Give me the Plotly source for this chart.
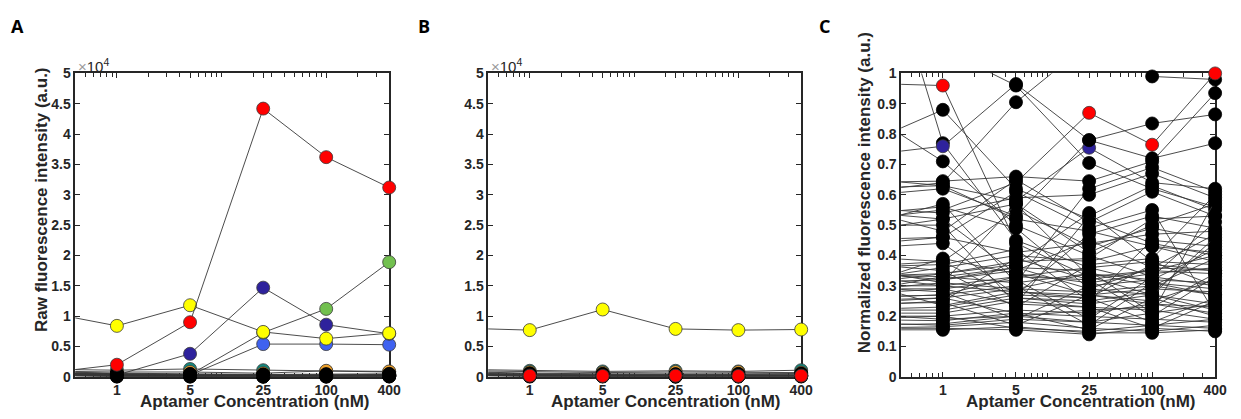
import math
import plotly.graph_objects as go

# ---------------- data ----------------
# concentrations (nM); the first point (0.1 nM) lies left of the visible axis range
CONC = [0.1, 1, 5, 25, 100, 400]
TICK_CONC = [1, 5, 25, 100, 400]
TICK_TEXT = ["1", "5", "25", "100", "400"]

# Panel A: raw fluorescence intensity (a.u.)
A_black = [
    [600, 300, 200, 100, 150, 200],
    [500, 200, 150, 120, 100, 150],
    [800, 400, 300, 250, 200, 300],
    [400, 100, 100, 50, 80, 100],
    [700, 300, 250, 200, 250, 250],
    [300, 50, 50, 30, 40, 60],
    [900, 500, 400, 350, 300, 400],
    [1000, 600, 500, 400, 450, 500],
    [650, 250, 200, 180, 160, 200],
    [450, 150, 120, 100, 110, 120],
    [550, 350, 300, 280, 260, 300],
    [750, 450, 350, 300, 350, 350],
    [350, 80, 60, 50, 60, 80],
]
A_orange = [1000, 800, 800, 600, 1000, 900]
A_teal = [1300, 1100, 1300, 1100, 900, 800]
A_blue = [800, 250, 300, 5400, 5400, 5300]
A_green = [900, 200, 350, 7300, 11200, 18900]
A_navy = [900, 300, 3800, 14700, 8600, 7100]
A_yellow = [11700, 8400, 11800, 7400, 6300, 7200]
A_red = [0, 2000, 9000, 44200, 36200, 31200]

# Panel B: raw fluorescence intensity (a.u.)
B_black = [
    [700, 300, 250, 200, 250, 250],
    [500, 200, 150, 120, 100, 150],
    [900, 500, 400, 350, 400, 450],
    [400, 100, 100, 50, 80, 100],
    [800, 400, 300, 300, 250, 300],
    [300, 50, 50, 30, 40, 60],
    [1000, 600, 500, 450, 500, 550],
    [600, 250, 200, 180, 160, 200],
    [450, 150, 120, 100, 110, 120],
    [550, 350, 300, 280, 260, 300],
]
B_orange = [1100, 800, 700, 800, 800, 700]
B_teal = [1300, 1000, 900, 1000, 900, 1100]
B_yellow = [8200, 7700, 11100, 7900, 7700, 7800]
B_red = [500, 200, 150, 200, 150, 200]

# Panel C: normalized fluorescence intensity (a.u.)
C_series = [
    [0.97, 0.96, 0.44, 0.33, 0.27, 0.24],
    [0.73, 0.88, 0.62, 0.52, 0.44, 0.40],
    [1.90, 0.77, 0.45, 0.36, 0.31, 0.27],
    [0.72, 0.76, 0.965, 0.78, 0.835, 0.865],
    [0.93, 0.71, 0.50, 0.40, 0.33, 0.30],
    [1.20, 1.08, 0.96, 0.705, 0.62, 0.56],
    [0.60, 0.64, 0.905, 1.10, 0.99, 0.98],
    [0.51, 0.55, 0.64, 0.87, 0.765, 1.00],
    [0.66, 0.63, 0.58, 0.755, 0.64, 0.62],
    [0.59, 0.62, 0.53, 0.78, 0.72, 0.77],
    [0.64, 0.645, 0.66, 0.645, 0.71, 0.935],
    [0.48, 0.57, 0.31, 0.62, 0.69, 0.61],
    [0.56, 0.54, 0.59, 0.60, 0.67, 0.59],
    [0.55, 0.52, 0.57, 0.41, 0.50, 0.57],
    [0.50, 0.50, 0.24, 0.53, 0.63, 0.55],
    [0.57, 0.48, 0.65, 0.51, 0.61, 0.53],
    [0.45, 0.46, 0.61, 0.49, 0.55, 0.21],
    [0.42, 0.44, 0.27, 0.47, 0.53, 0.49],
    [0.53, 0.56, 0.49, 0.29, 0.36, 0.47],
    [0.40, 0.38, 0.55, 0.43, 0.49, 0.45],
    [0.36, 0.37, 0.42, 0.25, 0.45, 0.43],
    [0.31, 0.36, 0.40, 0.38, 0.43, 0.41],
    [0.38, 0.35, 0.23, 0.37, 0.39, 0.60],
    [0.33, 0.34, 0.37, 0.54, 0.38, 0.37],
    [0.27, 0.33, 0.36, 0.35, 0.21, 0.58],
    [0.35, 0.32, 0.35, 0.45, 0.36, 0.35],
    [0.37, 0.31, 0.57, 0.33, 0.35, 0.34],
    [0.34, 0.30, 0.33, 0.32, 0.20, 0.33],
    [0.29, 0.29, 0.32, 0.19, 0.33, 0.51],
    [0.30, 0.28, 0.19, 0.30, 0.32, 0.31],
    [0.26, 0.27, 0.30, 0.17, 0.31, 0.29],
    [0.25, 0.26, 0.29, 0.28, 0.30, 0.39],
    [0.24, 0.245, 0.17, 0.27, 0.29, 0.28],
    [0.33, 0.235, 0.28, 0.26, 0.18, 0.26],
    [0.22, 0.22, 0.26, 0.25, 0.28, 0.44],
    [0.21, 0.21, 0.25, 0.23, 0.16, 0.25],
    [0.20, 0.20, 0.22, 0.21, 0.24, 0.23],
    [0.19, 0.185, 0.21, 0.155, 0.26, 0.20],
    [0.17, 0.175, 0.20, 0.22, 0.23, 0.34],
    [0.16, 0.165, 0.18, 0.16, 0.15, 0.17],
    [0.155, 0.155, 0.165, 0.145, 0.145, 0.155],
    [0.28, 0.39, 0.34, 0.31, 0.34, 0.36],
    [0.36, 0.38, 0.26, 0.24, 0.27, 0.22],
    [0.34, 0.33, 0.31, 0.34, 0.32, 0.42],
    [0.31, 0.32, 0.36, 0.29, 0.27, 0.46],
    [0.30, 0.30, 0.28, 0.27, 0.25, 0.32],
    [0.27, 0.29, 0.24, 0.23, 0.22, 0.19],
    [0.26, 0.27, 0.33, 0.36, 0.38, 0.30],
    [0.24, 0.26, 0.21, 0.20, 0.19, 0.18],
    [0.23, 0.25, 0.39, 0.32, 0.35, 0.40],
    [0.19, 0.20, 0.16, 0.15, 0.17, 0.16],
    [0.18, 0.17, 0.19, 0.18, 0.21, 0.24],
    [0.16, 0.16, 0.155, 0.14, 0.16, 0.15],
    [0.47, 0.52, 0.34, 0.27, 0.24, 0.21],
    [0.43, 0.46, 0.41, 0.44, 0.47, 0.48],
    [0.30, 0.34, 0.38, 0.39, 0.52, 0.53],
    [0.28, 0.31, 0.29, 0.34, 0.30, 0.27],
    [0.22, 0.23, 0.27, 0.26, 0.37, 0.35],
    [0.21, 0.19, 0.20, 0.18, 0.17, 0.19],
    [0.62, 0.63, 0.52, 0.48, 0.43, 0.38],
]
# highlighted points in panel C: (series index, concentration index) -> colour name
C_highlight = {(0, 1): "red", (3, 1): "navy", (7, 3): "red", (7, 4): "red",
               (7, 5): "red", (8, 3): "navy"}

# ---------------- style ----------------
COL = {"black": "#000000", "red": "#ff0000", "yellow": "#ffff00", "navy": "#2e229c",
       "blue": "#3f62f0", "green": "#72c04f", "teal": "#14877d", "orange": "#eea12c"}
AX = "#262626"
FONT = "Liberation Sans, Arial, sans-serif"
W, H = 1241, 419
XMIN, XMAX = 0.4, 400


def px(x):
    return x / W


def py(y):
    return 1 - y / H


fig = go.Figure()


def add_series(ys, color, ax, ymax, highlight=None):
    sizes, cols, lcols, lws = [], [], [], []
    for i, (x, y) in enumerate(zip(CONC, ys)):
        vis = (x >= XMIN) and (y <= ymax * 1.01)
        c = COL[color]
        if highlight and i in highlight:
            c = COL[highlight[i]]
        sizes.append(13 if vis else 0)
        cols.append(c)
        lcols.append("#000000" if c == "#000000" else "#3a3a3a")
        lws.append(0.8 if vis else 0)
    fig.add_trace(go.Scatter(
        x=CONC, y=ys, mode="lines+markers", cliponaxis=False,
        line=dict(color="#383838", width=0.9),
        marker=dict(size=sizes, color=cols, opacity=1,
                    line=dict(color=lcols, width=lws)),
        xaxis="x" + ax, yaxis="y" + ax, showlegend=False, hoverinfo="skip"))


YMAX_RAW = 50000
# Panel A
for s, c in [(A_blue, "blue"), (A_green, "green"), (A_navy, "navy"),
             (A_teal, "teal"), (A_orange, "orange")]:
    add_series(s, c, "", YMAX_RAW)
for s in A_black:
    add_series(s, "black", "", YMAX_RAW)
for s, c in [(A_yellow, "yellow"), (A_red, "red")]:
    add_series(s, c, "", YMAX_RAW)
# Panel B
for s, c in [(B_teal, "teal"), (B_orange, "orange")]:
    add_series(s, c, "2", YMAX_RAW)
for s in B_black:
    add_series(s, "black", "2", YMAX_RAW)
for s, c in [(B_yellow, "yellow"), (B_red, "red")]:
    add_series(s, c, "2", YMAX_RAW)
# Panel C
for k, s in enumerate(C_series):
    hl = {ci: col for (si, ci), col in C_highlight.items() if si == k}
    add_series(s, "black", "3", 1.0, hl)

# ---------------- axes ----------------
minor_vals = [m * 10 ** e for e in (-1, 0, 1, 2) for m in range(2, 10)
              if XMIN <= m * 10 ** e <= XMAX and m * 10 ** e not in TICK_CONC]
minor_vals += [10]

ydom = [py(383.5), py(68)]
doms = [[px(76), px(393)], [px(493), px(809)], [px(910), px(1227)]]

tickfont = dict(family=FONT, size=14, color=AX, weight="bold")


def xaxis(dom, anchor):
    return dict(type="log", domain=dom, anchor=anchor,
                range=[math.log10(XMIN), math.log10(XMAX)],
                tickmode="array", tickvals=TICK_CONC, ticktext=TICK_TEXT,
                ticks="inside", ticklen=5, tickwidth=1, tickcolor=AX,
                minor=dict(tickmode="array", tickvals=minor_vals, ticks="inside",
                           ticklen=4, tickwidth=1, tickcolor=AX),
                showline=True, linecolor=AX, linewidth=1.5, mirror="ticks",
                showgrid=False, zeroline=False, tickfont=tickfont, layer="below traces")


def yaxis(anchor, tv, tt, rng):
    return dict(domain=ydom, anchor=anchor, range=rng,
                tickmode="array", tickvals=tv, ticktext=tt,
                ticks="inside", ticklen=5, tickwidth=1, tickcolor=AX,
                showline=True, linecolor=AX, linewidth=1.5, mirror="ticks",
                showgrid=False, zeroline=False, tickfont=tickfont, layer="below traces")


raw_tv = [i * 5000 for i in range(11)]
raw_tt = ["0", "0.5", "1", "1.5", "2", "2.5", "3", "3.5", "4", "4.5", "5"]
norm_tv = [i / 10 for i in range(11)]
norm_tt = ["0", "0.1", "0.2", "0.3", "0.4", "0.5", "0.6", "0.7", "0.8", "0.9", "1"]

fig.update_layout(
    width=W, height=H, margin=dict(l=0, r=0, t=0, b=0),
    paper_bgcolor="white", plot_bgcolor="white",
    xaxis=xaxis(doms[0], "y"), yaxis=yaxis("x", raw_tv, raw_tt, [0, YMAX_RAW]),
    xaxis2=xaxis(doms[1], "y2"), yaxis2=yaxis("x2", raw_tv, raw_tt, [0, YMAX_RAW]),
    xaxis3=xaxis(doms[2], "y3"), yaxis3=yaxis("x3", norm_tv, norm_tt, [0, 1]),
)

anns = []
title_font = dict(family=FONT, size=17, color=AX, weight="bold")
for cx in (257, 673, 1092):
    anns.append(dict(text="Aptamer Concentration (nM)", x=px(cx), y=py(409),
                     xref="paper", yref="paper", showarrow=False, font=title_font,
                     xanchor="center", yanchor="middle"))
anns.append(dict(text="Raw fluorescence intensity (a.u.)", x=px(42), y=py(199),
                 xref="paper", yref="paper", showarrow=False, font=title_font,
                 textangle=-90, xanchor="center", yanchor="middle"))
anns.append(dict(text="Normalized fluorescence intensity (a.u.)", x=px(873), y=py(192),
                 xref="paper", yref="paper", showarrow=False, font=title_font,
                 textangle=-90, xanchor="center", yanchor="middle"))
for lx in (77, 494):
    anns.append(dict(text="<span style='color:#9a9a9a'>×</span>10<sup>4</sup>",
                     x=px(lx), y=py(60), xref="paper", yref="paper", showarrow=False,
                     font=dict(family=FONT, size=15, color=AX),
                     xanchor="left", yanchor="middle"))
for lbl, lx in (("A", 18), ("B", 428), ("C", 833)):
    anns.append(dict(text=lbl, x=px(lx), y=py(19), xref="paper", yref="paper",
                     showarrow=False, font=dict(family="Open Sans", size=18, color="black",
                                                weight="bold"),
                     xanchor="center", yanchor="middle"))
fig.update_layout(annotations=anns)

# remove the browser's default page margin so the figure sits at the window's corner
fig.write_html("out.html", config={"displayModeBar": False}, post_script=(
    "document.body.style.margin='0';document.body.style.overflow='hidden';"
    "document.documentElement.style.overflow='hidden';"))
